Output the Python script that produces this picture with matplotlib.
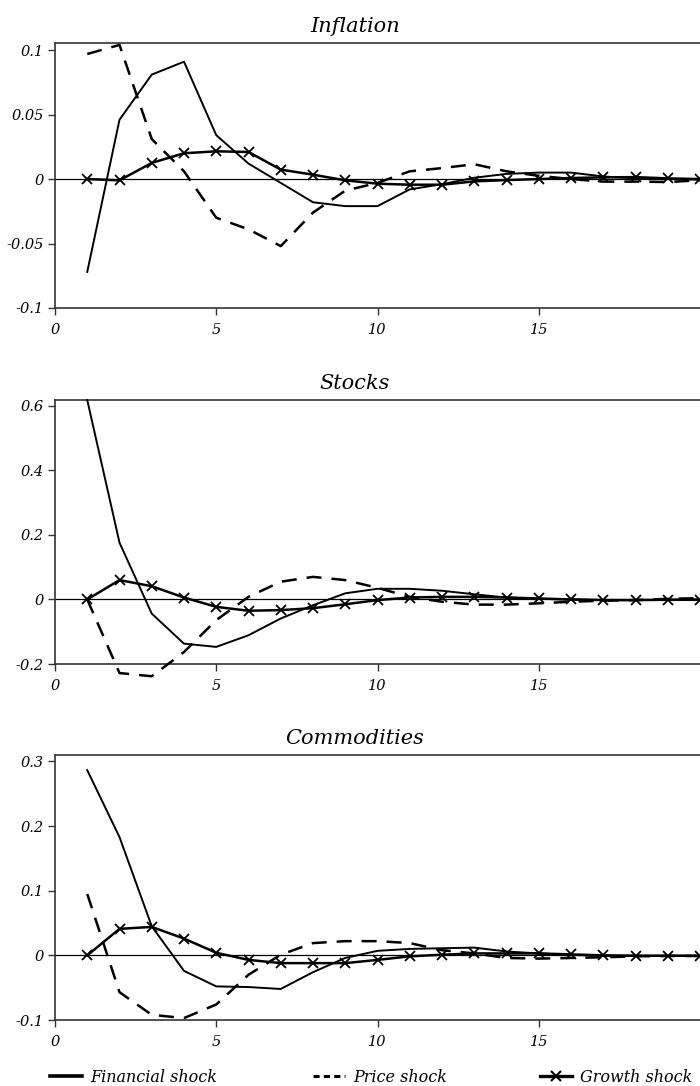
import matplotlib
matplotlib.use("Agg")
import matplotlib.pyplot as plt
from matplotlib.lines import Line2D

plt.rcParams['font.family'] = ['DejaVu Serif']
plt.rcParams['font.style'] = 'italic'

horizon = list(range(1, 21))

inflation_financial = [-0.072, 0.046, 0.081, 0.091, 0.034, 0.012, -0.003, -0.018, -0.021, -0.021,
                       -0.008, -0.004, 0.001, 0.004, 0.005, 0.005, 0.002, 0.0005, 0.0, -0.0005]
inflation_price = [0.097, 0.104, 0.031, 0.006, -0.030, -0.039, -0.052, -0.026, -0.009, -0.003,
                   0.006, 0.0085, 0.0115, 0.006, 0.0025, 0.0, -0.002, -0.002, -0.0023, -0.001]
inflation_growth = [0.0, -0.001, 0.0125, 0.020, 0.0215, 0.021, 0.0073, 0.0034, -0.001, -0.0036,
                    -0.0044, -0.0044, -0.0018, -0.0008, 0.0, 0.0008, 0.0013, 0.0015, 0.0005, 0.0]

stocks_financial = [0.618, 0.176, -0.044, -0.137, -0.147, -0.111, -0.059, -0.018, 0.019, 0.033,
                    0.033, 0.027, 0.016, 0.006, 0.002, 0.0, -0.002, -0.002, -0.001, 0.0]
stocks_price = [0.0, -0.228, -0.238, -0.163, -0.064, 0.008, 0.055, 0.070, 0.060, 0.036,
                0.008, -0.007, -0.016, -0.016, -0.012, -0.007, -0.004, -0.002, 0.002, 0.004]
stocks_growth = [0.0, 0.060, 0.041, 0.006, -0.023, -0.035, -0.033, -0.027, -0.015, -0.002,
                 0.006, 0.008, 0.008, 0.006, 0.003, 0.0, -0.002, -0.002, -0.001, -0.001]

commod_financial = [0.2865, 0.183, 0.045, -0.024, -0.048, -0.049, -0.052, -0.026, -0.004, 0.007,
                    0.010, 0.011, 0.012, 0.006, 0.003, 0.0005, -0.0005, -0.001, -0.001, -0.001]
commod_price = [0.095, -0.057, -0.092, -0.097, -0.076, -0.030, 0.001, 0.019, 0.022, 0.022,
                0.019, 0.008, 0.003, -0.004, -0.005, -0.004, -0.003, -0.0015, -0.001, -0.001]
commod_growth = [0.0, 0.041, 0.044, 0.026, 0.004, -0.007, -0.012, -0.012, -0.012, -0.007,
                 -0.0015, 0.001, 0.003, 0.003, 0.003, 0.0015, 0.0, -0.0005, -0.0005, -0.0005]

titles = ["Inflation", "Stocks", "Commodities"]
series = [
    (inflation_financial, inflation_price, inflation_growth),
    (stocks_financial, stocks_price, stocks_growth),
    (commod_financial, commod_price, commod_growth),
]
yticks = [
    [0.1, 0.05, 0, -0.05, -0.1],
    [0.6, 0.4, 0.2, 0, -0.2],
    [0.3, 0.2, 0.1, 0, -0.1],
]
ytick_labels = [
    ["0.1", "0.05", "0", "-0.05", "-0.1"],
    ["0.6", "0.4", "0.2", "0", "-0.2"],
    ["0.3", "0.2", "0.1", "0", "-0.1"],
]
ylims = [(-0.1, 0.1055), (-0.2, 0.618), (-0.1, 0.31)]
xticks = [0, 5, 10, 15]
xtick_labels = ["0", "5", "10", "15"]
legend_labels = ["Financial shock", "Price shock", "Growth shock"]

W, H = 700, 1086
fig = plt.figure(figsize=(W / 100, H / 100), dpi=100)

axes_px = [(43, 308), (400, 664), (755, 1020)]
left_px, right_px = 55, 700
spine_col = '#333333'

for i, (top, bot) in enumerate(axes_px):
    ax = fig.add_axes([left_px / W, 1 - bot / H, (right_px - left_px) / W, (bot - top) / H])
    fin, pri, gro = series[i]
    ax.axhline(0, color='black', lw=0.9, zorder=1)
    ax.plot(horizon, fin, color='black', lw=1.4, zorder=3, clip_on=False)
    ax.plot(horizon, pri, color='black', lw=1.8, dashes=(6, 4), zorder=3, clip_on=False)
    ax.plot(horizon, gro, color='black', lw=1.8, marker='x', ms=7, mew=1.3, zorder=4,
            clip_on=False)
    ax.set_xlim(0, 20)
    ax.set_ylim(*ylims[i])
    ax.set_xticks(xticks)
    ax.set_xticklabels(xtick_labels, fontstyle='italic')
    ax.set_yticks(yticks[i])
    ax.set_yticklabels(ytick_labels[i], fontstyle='italic')
    ax.tick_params(axis='both', direction='out', length=5, width=1, color=spine_col,
                   labelsize=10.5, pad=3)
    ax.tick_params(axis='x', pad=6)
    for s in ['top', 'left', 'bottom']:
        ax.spines[s].set_color(spine_col)
        ax.spines[s].set_linewidth(1.2)
    ax.spines['right'].set_visible(False)
    ax.set_title(titles[i], fontsize=15, fontstyle='italic',
                 x=(355 - left_px) / (right_px - left_px), pad=8)

handles = [
    Line2D([], [], color='black', lw=2.6),
    Line2D([], [], color='black', lw=2.2, dashes=(2, 1.4)),
    Line2D([], [], color='black', lw=2.4, marker='x', ms=7, mew=1.5),
]
leg_x = [50, 313, 540]
for h, lab, x0 in zip(handles, legend_labels, leg_x):
    fig.legend([h], [lab], loc='center left', bbox_to_anchor=(x0 / W, 1 - 1077 / H),
               frameon=False, prop={'size': 11.5, 'style': 'italic'},
               handlelength=2.0, handletextpad=0.5, borderpad=0, borderaxespad=0)

fig.savefig("out.png", dpi=100)
